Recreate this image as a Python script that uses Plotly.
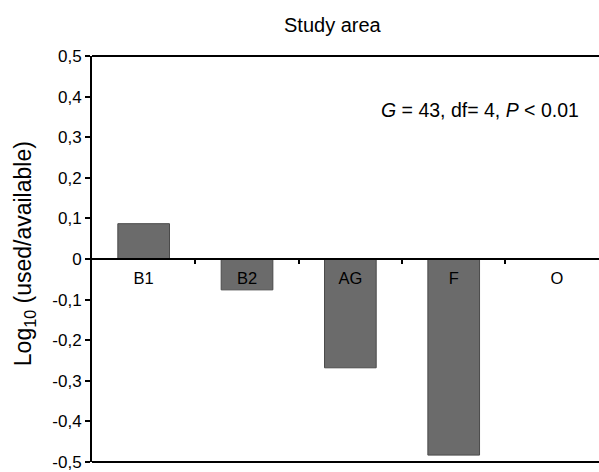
import plotly.graph_objects as go

categories = ["B1", "B2", "AG", "F", "O"]
values = [0.087, -0.076, -0.268, -0.483, 0.0]
y_tickvals = [0.5, 0.4, 0.3, 0.2, 0.1, 0.0, -0.1, -0.2, -0.3, -0.4, -0.5]
y_ticktext = ["0,5", "0,4", "0,3", "0,2", "0,1", "0", "-0,1", "-0,2", "-0,3", "-0,4", "-0,5"]
x_pos = list(range(len(categories)))
divider_pos = [i + 0.5 for i in range(len(categories) - 1)]

FONT = "Liberation Sans, Arial, sans-serif"

fig = go.Figure()
fig.add_trace(go.Bar(
    x=x_pos, y=values, width=0.5,
    marker=dict(color="#6b6b6b", line=dict(color="#4a4a4a", width=1)),
    showlegend=False,
))

fig.update_layout(
    width=599, height=472,
    margin=dict(l=92, r=0, t=56, b=10),
    paper_bgcolor="white", plot_bgcolor="white",
    font=dict(family=FONT, color="black"),
    xaxis=dict(
        range=[-0.5, 4.406],
        anchor="free", position=0.5,
        showline=True, linecolor="black", linewidth=2,
        tickvals=x_pos, ticktext=categories,
        ticks="", tickfont=dict(size=16.5, family=FONT),
        showgrid=False, zeroline=False,
        ticklabelstandoff=4,
        minor=dict(tickvals=divider_pos, ticks="outside", ticklen=4,
                   tickwidth=2, tickcolor="black", showgrid=False),
    ),
    yaxis=dict(
        range=[-0.5, 0.5],
        showline=True, linecolor="black", linewidth=2,
        tickvals=y_tickvals, ticktext=y_ticktext,
        ticks="outside", ticklen=5, tickwidth=1.5, tickcolor="black",
        tickfont=dict(size=17, family=FONT),
        showgrid=False, zeroline=False,
    ),
    shapes=[
        dict(type="line", xref="paper", yref="paper", x0=0, x1=1, y0=1, y1=1,
             line=dict(color="black", width=2)),
        dict(type="line", xref="paper", yref="paper", x0=0, x1=1, y0=0, y1=0,
             line=dict(color="black", width=2)),
    ],
    annotations=[
        dict(text="Study area", xref="paper", yref="paper", x=0.476, y=1,
             yshift=31, showarrow=False, font=dict(size=20, family=FONT),
             xanchor="center", yanchor="middle"),
        dict(text="Log<sub>10</sub> (used/available)", xref="paper", yref="paper",
             x=-0.134, y=0.512, textangle=-90, showarrow=False,
             font=dict(size=23, family=FONT), xanchor="center", yanchor="middle"),
        dict(text="<i>G</i> = 43, df= 4, <i>P</i> < 0.01", xref="x", yref="y",
             x=3.256, y=0.367, showarrow=False, font=dict(size=19.5, family=FONT),
             xanchor="center", yanchor="middle"),
    ],
)

fig.write_html("out.html")
